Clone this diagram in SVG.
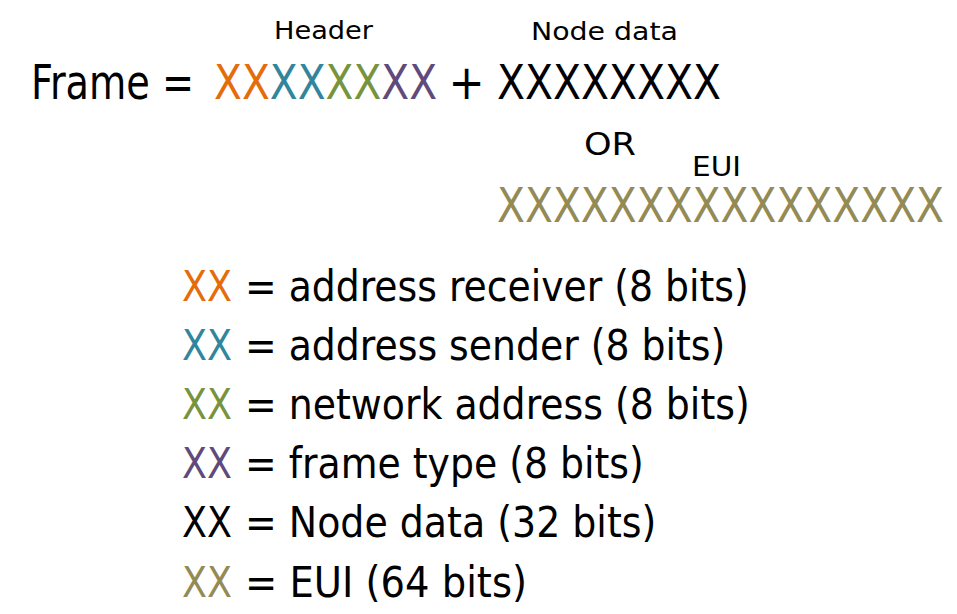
<svg xmlns="http://www.w3.org/2000/svg" width="957" height="614" viewBox="0 0 957 614">
  <style>
    text { font-family: "DejaVu Sans Condensed", "DejaVu Sans", sans-serif; font-stretch: condensed; fill: #000; }
    .big { font-size: 48px; }
    .leg { font-size: 42px; }
    .lbl { font-size: 25px; }
    .c-recv { fill: #E46C0A; }
    .c-send { fill: #31859C; }
    .c-net { fill: #77933C; }
    .c-type { fill: #604A7B; }
    .c-eui { fill: #948A54; }
  </style>
  <rect width="957" height="614" fill="#ffffff"/>

  <g id="frame-line">
    <text class="big" x="31" y="99" textLength="163" lengthAdjust="spacingAndGlyphs">Frame =</text>
    <text class="big" x="214" y="99" textLength="223" lengthAdjust="spacingAndGlyphs"><tspan class="c-recv">XX</tspan><tspan class="c-send">XX</tspan><tspan class="c-net">XX</tspan><tspan class="c-type">XX</tspan></text>
    <text class="big" x="466.5" y="99" text-anchor="middle">+</text>
    <text class="big" x="497" y="99" textLength="224" lengthAdjust="spacingAndGlyphs">XXXXXXXX</text>
  </g>

  <g id="header-label">
    <text class="lbl" x="274" y="38.5" textLength="99" lengthAdjust="spacingAndGlyphs">Header</text>
  </g>
  <g id="node-data-label">
    <text class="lbl" x="531" y="39.5" textLength="147" lengthAdjust="spacingAndGlyphs">Node data</text>
  </g>
  <g id="or-label">
    <text x="584" y="155" font-size="32" textLength="52" lengthAdjust="spacingAndGlyphs">OR</text>
  </g>
  <g id="eui-label">
    <text x="692" y="175.7" font-size="26" textLength="49" lengthAdjust="spacingAndGlyphs">EUI</text>
  </g>
  <g id="eui-row">
    <text class="big c-eui" x="497" y="221.7" textLength="447" lengthAdjust="spacingAndGlyphs">XXXXXXXXXXXXXXXX</text>
  </g>

  <g id="legend-receiver">
    <text class="leg c-recv" x="182" y="300.5" textLength="50" lengthAdjust="spacingAndGlyphs">XX</text>
    <text class="leg" x="245" y="300.5" textLength="503.7" lengthAdjust="spacingAndGlyphs">= address receiver (8 bits)</text>
  </g>
  <g id="legend-sender">
    <text class="leg c-send" x="182" y="359.5" textLength="50" lengthAdjust="spacingAndGlyphs">XX</text>
    <text class="leg" x="245" y="359.5" textLength="480.3" lengthAdjust="spacingAndGlyphs">= address sender (8 bits)</text>
  </g>
  <g id="legend-network">
    <text class="leg c-net" x="182" y="418.7" textLength="50" lengthAdjust="spacingAndGlyphs">XX</text>
    <text class="leg" x="245" y="418.7" textLength="504.7" lengthAdjust="spacingAndGlyphs">= network address (8 bits)</text>
  </g>
  <g id="legend-type">
    <text class="leg c-type" x="182" y="478" textLength="50" lengthAdjust="spacingAndGlyphs">XX</text>
    <text class="leg" x="245" y="478" textLength="398.7" lengthAdjust="spacingAndGlyphs">= frame type (8 bits)</text>
  </g>
  <g id="legend-node-data">
    <text class="leg" x="182" y="537.2" textLength="50" lengthAdjust="spacingAndGlyphs">XX</text>
    <text class="leg" x="245" y="537.2" textLength="411.3" lengthAdjust="spacingAndGlyphs">= Node data (32 bits)</text>
  </g>
  <g id="legend-eui">
    <text class="leg c-eui" x="182" y="596.5" textLength="50" lengthAdjust="spacingAndGlyphs">XX</text>
    <text class="leg" x="245" y="596.5" textLength="282" lengthAdjust="spacingAndGlyphs">= EUI (64 bits)</text>
  </g>
</svg>
